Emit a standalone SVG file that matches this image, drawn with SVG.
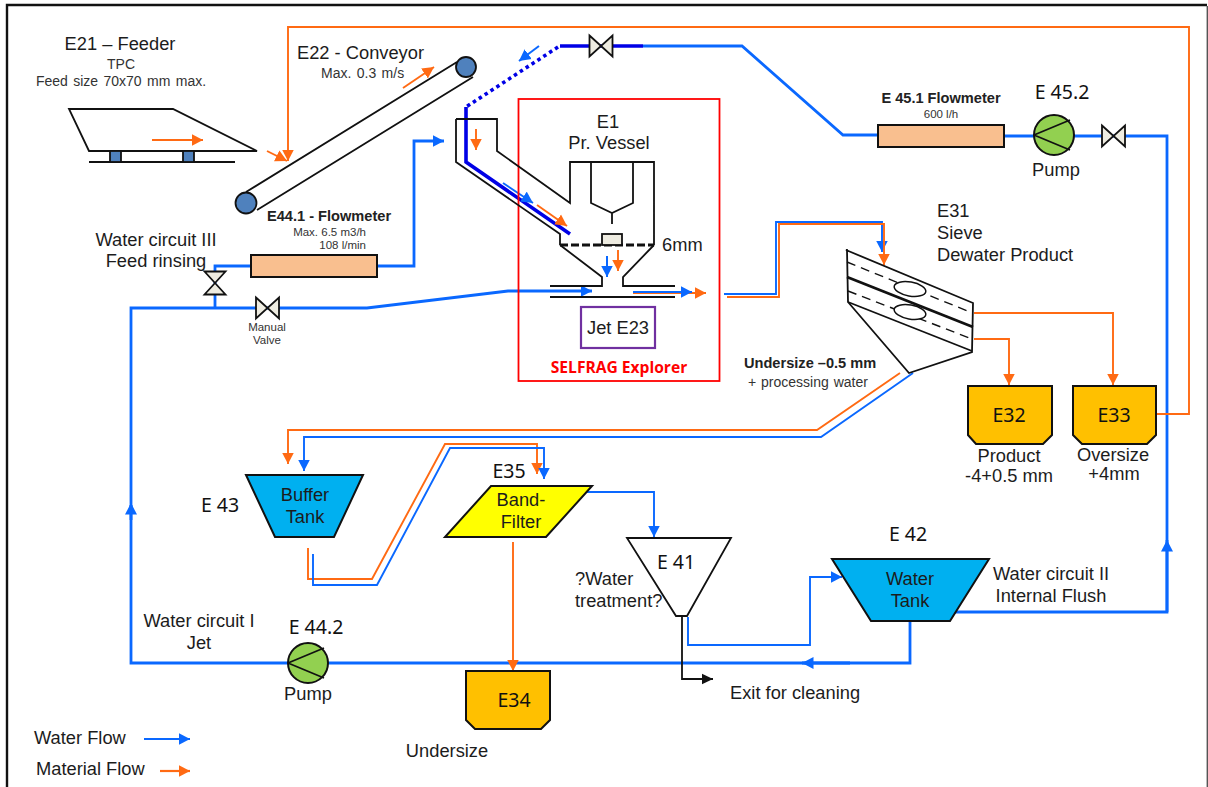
<svg xmlns="http://www.w3.org/2000/svg" width="1208" height="787" viewBox="0 0 1208 787">
<style>
text{font-family:"Liberation Sans",Arial,sans-serif;fill:#1c1c1c;font-size:18.300px}
.n{font-family:"Noto Sans","Open Sans",sans-serif;font-size:19.500px;fill:#111}
.m{text-anchor:middle}
.s{font-size:14px;fill:#333}
.t{font-size:11.500px;fill:#333}
.b{font-weight:bold;font-size:14.600px;fill:#222}
.k{fill:none;stroke:#111;stroke-width:1.800;stroke-linejoin:miter}
.w{fill:none;stroke:#0a68ff;stroke-width:2.800}
.w1{fill:none;stroke:#0a68ff;stroke-width:1.900}
.o{fill:none;stroke:#ff6a13;stroke-width:1.900}
.d{fill:none;stroke:#0000e6;stroke-width:3.600}
.fw{marker-end:url(#bw)}
.fo{marker-end:url(#ao)}
.bin{fill:#ffc000;stroke:#111;stroke-width:2}
.tank{fill:#00b0f0;stroke:#111;stroke-width:2}
.flow{fill:#f9bf8f;stroke:#111;stroke-width:2}
.roll{fill:#4f81bd;stroke:#111;stroke-width:1.800}
</style>
<defs>
<marker id="bw" markerUnits="userSpaceOnUse" markerWidth="13" markerHeight="13" refX="11.500" refY="6.500" orient="auto"><path d="M0 0.500L11.500 6.500L0 12.500z" fill="#0a68ff"/></marker>
<marker id="ao" markerUnits="userSpaceOnUse" markerWidth="13" markerHeight="13" refX="11.500" refY="6.500" orient="auto"><path d="M0 0.500L11.500 6.500L0 12.500z" fill="#ff6a13"/></marker>
<marker id="ak" markerUnits="userSpaceOnUse" markerWidth="13" markerHeight="13" refX="11.500" refY="6.500" orient="auto"><path d="M0 1L11.500 6.500L0 12z" fill="#111"/></marker>
<g id="pumpShape"><circle r="20" fill="#92d050" stroke="#111" stroke-width="2"/><path d="M-20 0L16 -15M-20 0L16 15" fill="none" stroke="#111" stroke-width="1.800"/></g>
<path id="valveH" d="M-11.500 -10.500L11.500 10.500V-10.500L-11.500 10.500z" fill="#eeece1" stroke="#111" stroke-width="1.800"/>
<path id="valveV" d="M-10.500 -11.500H10.500L-10.500 11.500H10.500z" fill="#eeece1" stroke="#111" stroke-width="1.800"/>
</defs>
<rect width="1208" height="787" fill="#fff"/>
<path d="M7 787V5H1207" fill="none" stroke="#111" stroke-width="2.400"/>
<path d="M1207.300 6V787" fill="none" stroke="#555" stroke-width="1.400"/>

<g id="connectors">
<path class="w" d="M131 505V663H910V621"/>
<path class="w" d="M131 503V308H367L508 291H592" style="marker-end:url(#bw)"/>
<path class="w" d="M131 520V503" style="marker-end:url(#bw)"/>
<path class="w" d="M215 308V266H251"/>
<path class="w" d="M377 266H414V141H444" style="marker-end:url(#bw)"/>
<path class="w" d="M643 46H742L843 135H878"/>
<path class="w" d="M1004 136H1167V612H955"/>
<path class="w" d="M1167 612V540" style="marker-end:url(#bw)"/>
<path class="w" d="M850 663H802" style="marker-end:url(#bw)"/>
<path class="w fw" d="M539 46L519 61" style="stroke-width:2"/>
<path class="d" d="M560 46H643"/>
<path class="d" d="M558 47L466 107" stroke-dasharray="3.500 3.500"/>
<path class="d" d="M466 107V162L570 234"/>
<path class="o" d="M1157 414H1189V27H288V161" style="marker-end:url(#ao)"/>
<path class="o fo" d="M267 151L287 161"/>
<path class="o fo" d="M152 140H203"/>
<path class="o fo" d="M403 88L434 67"/>
<path class="o fo" d="M476 129V150"/>
<path class="w1 fw" d="M503 183L533 203"/>
<path class="o fo" d="M537 205L567 226"/>
<path class="w fw" d="M607 256V277" style="stroke-width:2"/>
<path class="o fo" d="M618 250V271"/>
<path class="o fo" d="M633 293H706"/>
<path class="w fw" d="M633 292H692" style="stroke-width:2"/>
<path class="w1 fw" d="M724 294H776V222H882V252"/>
<path class="o fo" d="M727 297H779V224H884V265"/>
<path class="o fo" d="M974 313H1113V385"/>
<path class="o fo" d="M974 339H1009V385"/>
<path class="o fo" d="M900 373L817 430H288V464"/>
<path class="w1 fw" d="M913 373L821 437H304V471"/>
<path class="o fo" d="M308 548V579H372L445 444H537V474"/>
<path class="w1 fw" d="M313 554V585H377L450 448H544V479"/>
<path class="w1 fw" d="M587 492H654V537"/>
<path class="o fo" d="M513 542V671"/>
<path class="w1 fw" d="M688 617V645H810V577H842"/>
<path d="M682 617V679H713" fill="none" stroke="#111" stroke-width="1.800" style="marker-end:url(#ak)"/>
</g>

<g id="E21"><path class="k" d="M69 109H173L257 151H89zM89 162H235"/><rect x="110" y="151" width="11" height="11" class="roll"/><rect x="183" y="151" width="11" height="11" class="roll"/>
<text class="m" x="120" y="50">E21 – Feeder</text><text class="m s" x="121" y="69">TPC</text><text class="m s" x="121" y="86" word-spacing="1.500">Feed size 70x70 mm max.</text></g>
<g id="E22"><path class="k" d="M246 192L457 62M257 210L473 77"/><circle cx="246" cy="203" r="10.500" class="roll"/><circle cx="466" cy="67" r="10" class="roll"/>
<text x="297" y="59">E22 - Conveyor</text><text class="s" x="321" y="78" word-spacing="1.500">Max. 0.3 m/s</text></g>

<g id="E1"><rect x="518.500" y="99" width="201" height="282" fill="none" stroke="#f00" stroke-width="1.800"/>
<path class="k" d="M456 119H497V151L570 203V162H654V245M456 119V162L560 234V245M591 162V203L612 213L633 203V162M612 213V224"/>
<path class="k" d="M560 245L602 277V286H550M654 245L623 277V286H675M550 297H675"/>
<path d="M560 245H654" fill="none" stroke="#111" stroke-width="3" stroke-dasharray="8 3"/>
<rect x="602" y="234" width="20" height="11" fill="#eeece1" stroke="#111" stroke-width="1.800"/>
<text class="m" x="608" y="128">E1</text><text class="m" x="609" y="149">Pr. Vessel</text><text x="662" y="251">6mm</text>
<text class="m" x="619" y="373" style="font-family:'Open Sans','Noto Sans',sans-serif;font-weight:bold;font-size:15.600px;fill:#f00">SELFRAG Explorer</text></g>
<g id="E23"><rect x="581" y="307" width="74" height="41" fill="#fff" stroke="#7030a0" stroke-width="2.200"/><text class="m" x="618" y="334">Jet E23</text></g>

<g id="E44-1"><rect class="flow" x="251" y="255" width="126" height="22"/><text class="b" x="267" y="221">E44.1 - Flowmeter</text><text class="t" x="366" y="236" text-anchor="end">Max. 6.5 m3/h</text><text class="t" x="366" y="249" text-anchor="end">108 l/min</text></g>
<g id="V-rinse"><use href="#valveV" x="215" y="283"/><text class="m" x="156" y="246">Water circuit III</text><text class="m" x="156" y="267">Feed rinsing</text></g>
<g id="V-manual"><use href="#valveH" x="267.500" y="308"/><text class="m t" x="267" y="331">Manual</text><text class="m t" x="267" y="344">Valve</text></g>
<g id="V-top"><use href="#valveH" x="601" y="46"/></g>
<g id="E45-1"><rect class="flow" x="878" y="125" width="126" height="22"/><text class="m b" x="941" y="103">E 45.1 Flowmeter</text><text class="m t" x="941" y="118">600 l/h</text></g>
<g id="E45-2"><use href="#pumpShape" x="1054" y="135"/><text class="n m" x="1062" y="99">E 45.2</text><text class="m" x="1056" y="176">Pump</text></g>
<g id="V-45"><use href="#valveH" x="1113.500" y="136"/></g>

<g id="E31"><path class="k" d="M846 250L973 303L972 352L909 373L848 302L847 250z"/><path d="M847 277L973 327" fill="none" stroke="#111" stroke-width="2.800"/><path class="k" d="M848 302L972 351"/>
<path class="k" stroke-dasharray="9 6" d="M847 262L970 312M848 291L972 339" style="stroke-width:1.400"/>
<ellipse cx="910" cy="289" rx="16" ry="7" transform="rotate(10 910 289)" fill="#fff" stroke="#111" stroke-width="1.500"/><ellipse cx="910" cy="312" rx="16" ry="7" transform="rotate(10 910 312)" fill="#fff" stroke="#111" stroke-width="1.500"/>
<text x="937" y="217">E31</text><text x="937" y="239">Sieve</text><text x="937" y="261">Dewater Product</text>
<text class="b" x="744" y="368">Undersize –0.5 mm</text><text class="s" x="748" y="387" word-spacing="1">+ processing water</text></g>

<g id="E32"><path class="bin" d="M968 386H1052V435L1043 444H976L968 435z"/><text class="n m" x="1009" y="422">E32</text><text class="m" x="1009" y="462">Product</text><text class="m" x="1009" y="482">-4+0.5 mm</text></g>
<g id="E33"><path class="bin" d="M1073 386H1156V435L1147 444H1082L1073 435z"/><text class="n m" x="1114" y="422">E33</text><text class="m" x="1113" y="461">Oversize</text><text class="m" x="1114" y="480">+4mm</text></g>
<g id="E34"><path class="bin" d="M466 671H550V720L541 729H475L466 720z"/><text class="n m" x="514" y="707">E34</text><text class="m" x="447" y="757">Undersize</text></g>
<g id="E43"><path class="tank" d="M246 475H363L334 537H275z"/><text class="m" x="305" y="501">Buffer</text><text class="m" x="305" y="523">Tank</text><text class="n m" x="220" y="512">E 43</text></g>
<g id="E35"><path d="M491 486H592L546 537H445z" fill="#ff0" stroke="#111" stroke-width="2"/><text class="m" x="521" y="506">Band-</text><text class="m" x="521" y="528">Filter</text><text class="n m" x="509" y="478">E35</text></g>
<g id="E41"><path d="M627 538H731L687 616H676z" fill="#fff" stroke="#111" stroke-width="1.800"/><text class="n m" x="676" y="569">E 41</text><text x="575" y="585">?Water</text><text x="575" y="607">treatment?</text></g>
<g id="E42"><path class="tank" d="M832 559H989L950 621H871z"/><text class="m" x="910" y="585">Water</text><text class="m" x="910" y="607">Tank</text><text class="n m" x="908" y="541">E 42</text><text class="m" x="1051" y="580">Water circuit II</text><text class="m" x="1051" y="602">Internal Flush</text></g>
<g id="E44-2"><use href="#pumpShape" x="308" y="663"/><text class="n m" x="316" y="634">E 44.2</text><text class="m" x="308" y="700">Pump</text><text class="m" x="199" y="627">Water circuit I</text><text class="m" x="199" y="649">Jet</text></g>
<g id="exit"><text x="730" y="699">Exit for cleaning</text></g>
<g id="legend"><text x="34" y="744">Water Flow</text><path class="w fw" d="M144 739H190" style="stroke-width:2.200"/><text x="36" y="775">Material Flow</text><path class="o fo" d="M160 771H190" style="stroke-width:2.200"/></g>
</svg>
